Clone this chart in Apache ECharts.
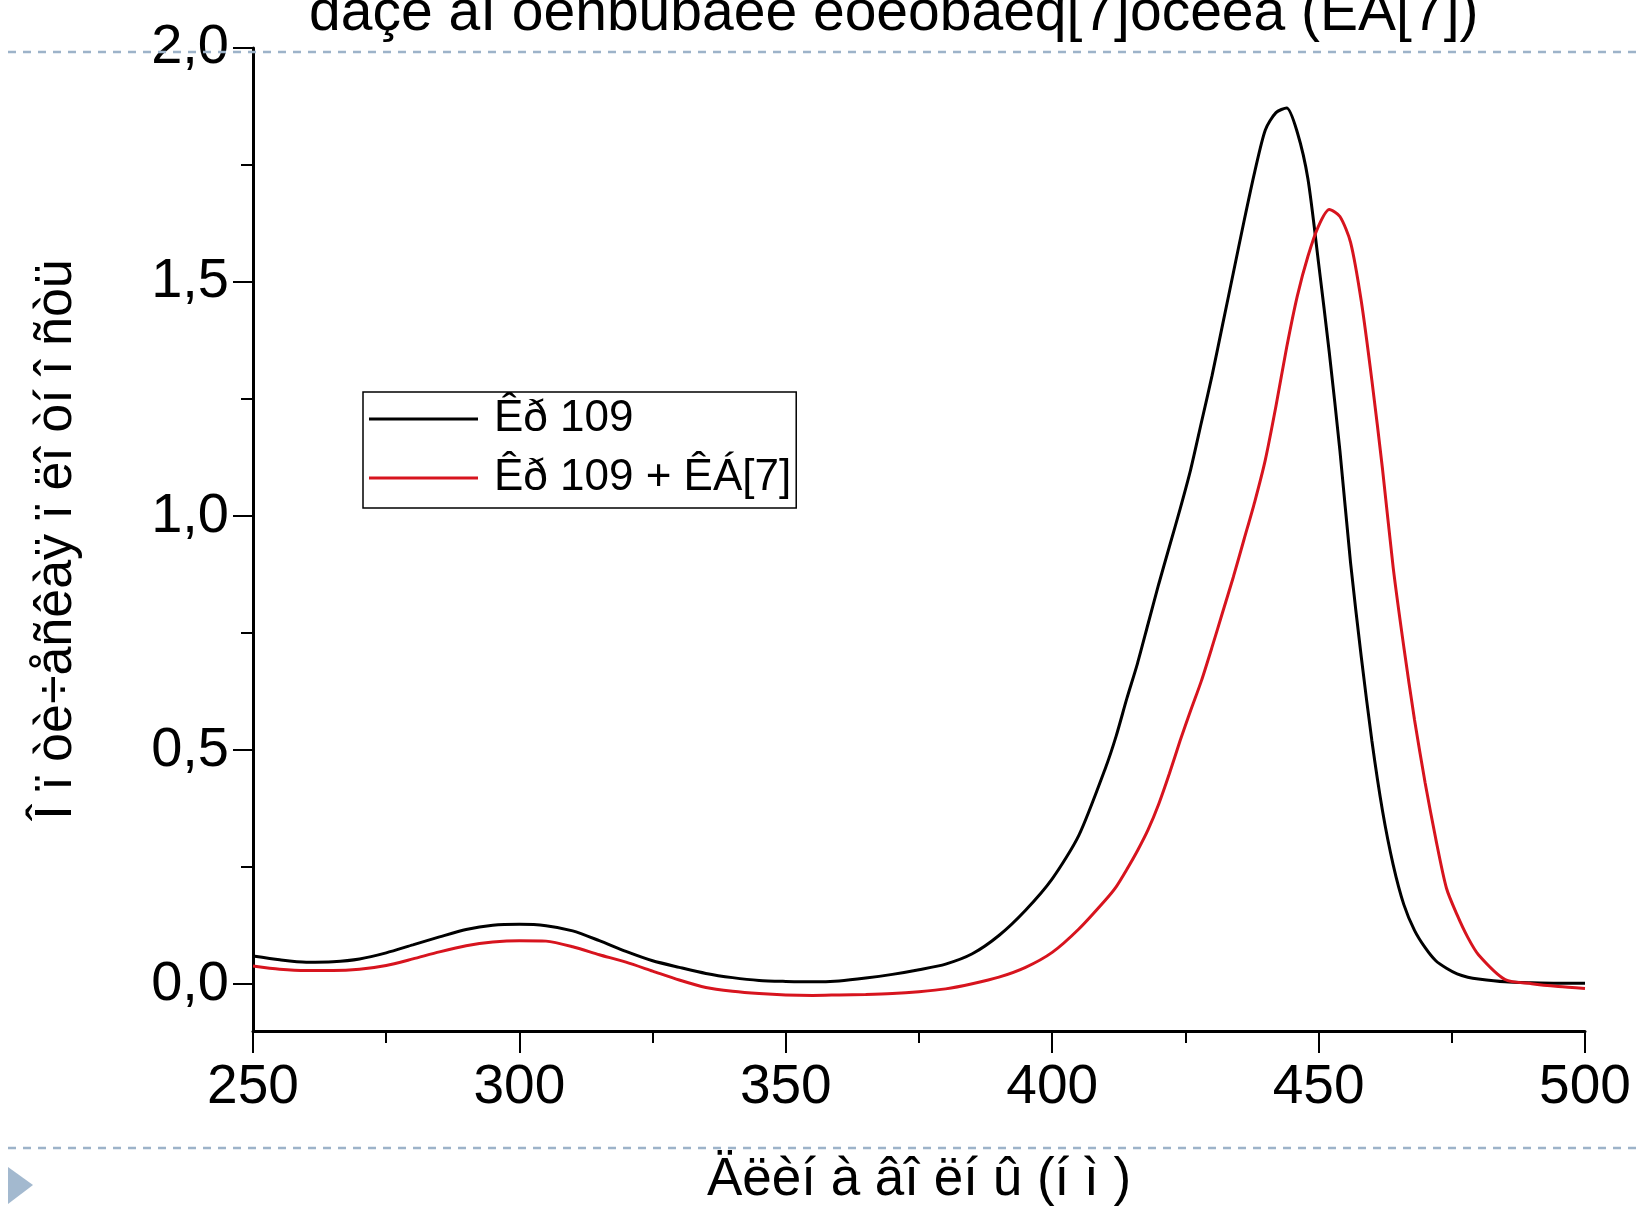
<!DOCTYPE html>
<html>
<head>
<meta charset="utf-8">
<script src="https://cdn.jsdelivr.net/npm/echarts@6/dist/echarts.min.js"></script>
<style>
html,body{margin:0;padding:0;background:#fff;}
#chart{width:1641px;height:1211px;}
</style>
</head>
<body>
<div id="chart"></div>
<script>
// ---- data ----
const wavelength = [
  250,255,260,265,270,275,280,285,290,295,300,305,310,315,320,325,330,335,340,345,
  350,355,360,365,370,375,380,385,390,395,400,405,410,
  412,414,416,418,420,422,424,426,428,430,432,434,436,438,440,442,444,446,448,450,
  452,454,456,458,460,462,464,466,468,470,472,474,476,478,480,
  485,490,495,500
];
const kr109 = [
  0.060,0.052,0.047,0.048,0.054,0.067,0.084,0.101,0.117,0.126,0.128,0.125,0.114,0.093,0.070,0.050,0.036,0.023,0.014,0.008,
  0.006,0.005,0.007,0.013,0.021,0.031,0.043,0.065,0.104,0.158,0.225,0.318,0.462,
  0.530,0.610,0.685,0.770,0.855,0.935,1.015,1.100,1.200,1.300,1.410,1.520,1.630,1.735,1.825,1.862,1.872,1.820,1.720,1.540,
  1.350,1.140,0.900,0.700,0.520,0.370,0.255,0.170,0.115,0.078,0.050,0.034,0.022,0.015,0.011,
  0.005,0.003,0.002,0.002
];
const kr109CB7 = [
  0.039,0.032,0.029,0.029,0.032,0.040,0.054,0.069,0.082,0.090,0.093,0.092,0.080,0.063,0.047,0.028,0.009,-0.007,-0.015,-0.020,
  -0.023,-0.024,-0.023,-0.022,-0.020,-0.016,-0.010,0.001,0.015,0.036,0.068,0.118,0.180,
  0.208,0.245,0.285,0.330,0.385,0.450,0.520,0.585,0.648,0.720,0.795,0.870,0.950,1.030,1.120,1.235,1.360,1.470,1.555,1.620,
  1.655,1.640,1.585,1.460,1.290,1.100,0.890,0.720,0.565,0.430,0.310,0.205,0.148,0.100,0.063,
  0.010,0.001,-0.005,-0.009
];
const seriesNames = ['Êð 109', 'Êð 109 + ÊÁ[7]'];
const yMajorTicks = [0, 0.5, 1.0, 1.5, 2.0];
const yMinorTicks = [0.25, 0.75, 1.25, 1.75];
const titleText = 'daçe aI oenbubaee eoeobaeq[7]oceea (EA[7])';
const xAxisTitle = 'Äëèí à âî ëí û (í ì )';
const yAxisTitle = 'Î ï òè÷åñêàÿ ï ëî òí î ñòü';

const FONT = "'Liberation Sans',Arial,sans-serif";

const chart = echarts.init(document.getElementById('chart'), null, {renderer: 'canvas'});
const option = {
  backgroundColor: '#ffffff',
  animation: false,
  title: {
    text: titleText,
    left: 309, top: -14, padding: 0,
    textStyle: {fontFamily: FONT, fontSize: 57, lineHeight: 57, fontWeight: 'normal', color: '#000'}
  },
  grid: {left: 253, top: 48, width: 1332, height: 983, outerBoundsMode: 'none', containLabel: false},
  legend: {
    orient: 'vertical', left: 363, top: 392,
    data: seriesNames,
    icon: 'rect', itemWidth: 109, itemHeight: 3, itemGap: 9,
    padding: [2, 5, 5, 6],
    borderColor: '#000', borderWidth: 1.5, backgroundColor: '#fff',
    textStyle: {fontFamily: FONT, fontSize: 44, lineHeight: 50, color: '#000', padding: [0,0,0,11]}
  },
  xAxis: {
    type: 'value', min: 250, max: 500, interval: 50,
    name: xAxisTitle, nameLocation: 'middle', nameGap: 123,
    nameTextStyle: {fontFamily: FONT, fontSize: 53, lineHeight: 53, color: '#000'},
    axisLine: {show: true, onZero: false, lineStyle: {color: '#000', width: 3}},
    axisTick: {show: true, length: 22, lineStyle: {color: '#000', width: 2}},
    minorTick: {show: true, splitNumber: 2, length: 12, lineStyle: {color: '#000', width: 2}},
    splitLine: {show: false},
    axisLabel: {fontFamily: FONT, fontSize: 55, color: '#000', margin: 29}
  },
  yAxis: [
    {
      type: 'value', min: -0.1, max: 2.0,
      name: yAxisTitle, nameLocation: 'middle', nameGap: 170, nameRotate: 90,
      nameTextStyle: {fontFamily: FONT, fontSize: 52, lineHeight: 52, color: '#000'},
      axisLine: {show: true, onZero: false, lineStyle: {color: '#000', width: 3}},
      axisTick: {show: true, customValues: yMajorTicks, length: 20, lineStyle: {color: '#000', width: 2}},
      axisLabel: {customValues: yMajorTicks, fontFamily: FONT, fontSize: 56, color: '#000', margin: 24,
        formatter: v => v.toFixed(1).replace('.', ',')},
      splitLine: {show: false}
    },
    {
      type: 'value', min: -0.1, max: 2.0, position: 'left', offset: 0,
      axisLine: {show: false, onZero: false},
      axisTick: {show: true, customValues: yMinorTicks, length: 12, lineStyle: {color: '#000', width: 2}},
      axisLabel: {show: false},
      splitLine: {show: false}
    }
  ],
  series: [
    {
      name: seriesNames[0], type: 'line', yAxisIndex: 0, color: '#000000',
      showSymbol: false, symbol: 'none', smooth: 0.25,
      lineStyle: {color: '#000000', width: 3},
      data: wavelength.map((x, i) => [x, kr109[i]])
    },
    {
      name: seriesNames[1], type: 'line', yAxisIndex: 0, color: '#d7141e',
      showSymbol: false, symbol: 'none', smooth: 0.25,
      lineStyle: {color: '#d7141e', width: 3},
      data: wavelength.map((x, i) => [x, kr109CB7[i]])
    }
  ],
  graphic: [
    {type: 'line', shape: {x1: 8, y1: 52, x2: 1641, y2: 52},
      style: {stroke: '#9db3c9', lineWidth: 2.5, lineDash: [8, 7]}, z: 100},
    {type: 'line', shape: {x1: 8, y1: 1148, x2: 1641, y2: 1148},
      style: {stroke: '#9db3c9', lineWidth: 2.5, lineDash: [8, 7]}, z: 100},
    {type: 'polygon', shape: {points: [[8, 1167], [33, 1185], [8, 1204]]},
      style: {fill: '#a3b9cf'}, z: 100}
  ]
};
chart.setOption(option);
</script>
</body>
</html>
